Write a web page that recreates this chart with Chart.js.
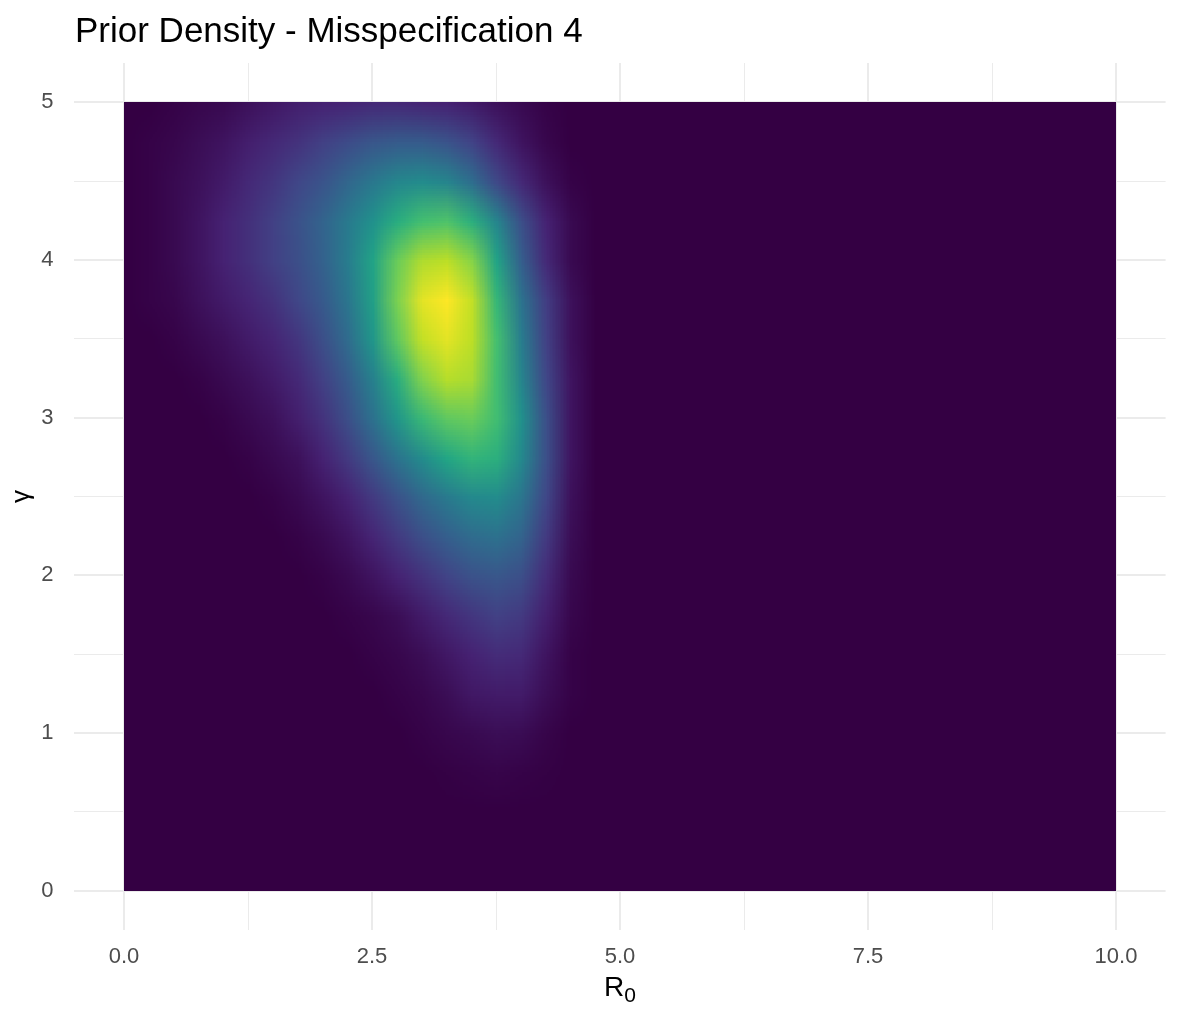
<!DOCTYPE html>
<html>
<head>
<meta charset="utf-8">
<script src="https://cdn.jsdelivr.net/npm/chart.js@4.4.0/dist/chart.umd.min.js"></script>
<style>
html,body{margin:0;padding:0;background:#ffffff;}
#wrap{width:1180px;height:1022px;position:relative;}
</style>
</head>
<body>
<div id="wrap"><canvas id="c" width="1180" height="1022"></canvas></div>
<script>
// ---------------- data ----------------
const chartTitle = 'Prior Density - Misspecification 4';
const xTitleMain = 'R';
const xTitleSub = '0';
const yTitle = 'γ';

// plotted region of the raster
const r0Range = [0, 10];
const gammaRange = [0, 5];

// grid of estimated density (relative, peak = 1); columns = R0, rows = gamma (top to bottom)
const r0Values = [0, 0.25, 0.5, 0.75, 1, 1.25, 1.5, 1.75, 2, 2.25, 2.5, 2.75, 3, 3.25, 3.5, 3.75, 4, 4.25, 4.5, 4.75, 5];
const gammaValues = [5, 4.75, 4.5, 4.25, 4, 3.75, 3.5, 3.25, 3, 2.75, 2.5, 2.25, 2, 1.75, 1.5, 1.25, 1, 0.75, 0.5, 0.25, 0];
const densityG500 = [0,0,.01,.02,.03,.05,.07,.09,.1,.11,.12,.12,.11,.1,.08,.05,.03,.01,0,0,0];
const densityG475 = [0,.01,.02,.04,.06,.09,.12,.15,.19,.23,.27,.29,.29,.26,.2,.12,.06,.02,0,0,0];
const densityG450 = [0,.01,.03,.05,.08,.12,.16,.21,.26,.33,.4,.46,.48,.45,.36,.22,.12,.05,.01,0,0];
const densityG425 = [0,.01,.03,.06,.1,.14,.19,.25,.32,.41,.5,.62,.7,.72,.63,.45,.24,.1,.03,0,0];
const densityG400 = [0,.01,.03,.06,.1,.14,.19,.24,.31,.42,.58,.77,.88,.9,.82,.58,.3,.12,.03,0,0];
const densityG375 = [0,.01,.02,.05,.08,.11,.15,.21,.28,.39,.56,.8,.96,1,.91,.66,.38,.18,.05,0,0];
const densityG350 = [0,0,.01,.03,.05,.08,.11,.16,.24,.35,.52,.75,.91,.96,.9,.7,.42,.19,.05,0,0];
const densityG325 = [0,0,0,.01,.03,.05,.08,.12,.19,.29,.43,.62,.81,.89,.87,.69,.45,.21,.06,0,0];
const densityG300 = [0,0,0,0,.01,.03,.05,.09,.15,.24,.37,.52,.67,.75,.77,.69,.5,.24,.06,0,0];
const densityG275 = [0,0,0,0,0,.01,.03,.05,.1,.17,.27,.38,.48,.59,.65,.63,.47,.24,.06,0,0];
const densityG250 = [0,0,0,0,0,0,.01,.03,.06,.1,.17,.25,.34,.41,.47,.48,.39,.21,.05,0,0];
const densityG225 = [0,0,0,0,0,0,0,.01,.03,.06,.11,.17,.24,.3,.35,.37,.32,.17,.04,0,0];
const densityG200 = [0,0,0,0,0,0,0,0,.01,.03,.06,.1,.15,.2,.25,.27,.24,.13,.03,0,0];
const densityG175 = [0,0,0,0,0,0,0,0,0,.01,.02,.04,.08,.12,.16,.19,.17,.09,.02,0,0];
const densityG150 = [0,0,0,0,0,0,0,0,0,0,.01,.02,.04,.07,.1,.13,.12,.06,.01,0,0];
const densityG125 = [0,0,0,0,0,0,0,0,0,0,0,.01,.02,.04,.07,.08,.08,.04,.01,0,0];
const densityG100 = [0,0,0,0,0,0,0,0,0,0,0,0,.01,.02,.03,.04,.035,.015,0,0,0];
const densityG075 = [0,0,0,0,0,0,0,0,0,0,0,0,0,.005,.01,.015,.01,.005,0,0,0];
const densityG050 = [0,0,0,0,0,0,0,0,0,0,0,0,0,0,0,0,0,0,0,0,0];
const densityG025 = [0,0,0,0,0,0,0,0,0,0,0,0,0,0,0,0,0,0,0,0,0];
const densityG000 = [0,0,0,0,0,0,0,0,0,0,0,0,0,0,0,0,0,0,0,0,0];
const densityRows = [densityG500, densityG475, densityG450, densityG425, densityG400, densityG375, densityG350,
  densityG325, densityG300, densityG275, densityG250, densityG225, densityG200, densityG175, densityG150,
  densityG125, densityG100, densityG075, densityG050, densityG025, densityG000];

// ticks
const xMajorTicks = [0, 2.5, 5, 7.5, 10];
const xMajorLabels = ['0.0', '2.5', '5.0', '7.5', '10.0'];
const xMinorTicks = [1.25, 3.75, 6.25, 8.75];
const yMajorTicks = [0, 1, 2, 3, 4, 5];
const yMajorLabels = ['0', '1', '2', '3', '4', '5'];
const yMinorTicks = [0.5, 1.5, 2.5, 3.5, 4.5];

// viridis palette stops (lowest stop matched to the reference background)
const paletteStops = [
  [52, 0, 67], [70, 34, 115], [65, 68, 135], [53, 95, 141], [42, 120, 142],
  [33, 145, 140], [34, 168, 132], [68, 191, 112], [122, 209, 81], [189, 223, 38], [253, 231, 37]
];

// ---------------- helpers ----------------
function colourFor(t) {
  t = Math.max(0, Math.min(1, t));
  const p = t * (paletteStops.length - 1);
  const i = Math.min(paletteStops.length - 2, Math.floor(p));
  const f = p - i;
  const a = paletteStops[i], b = paletteStops[i + 1];
  return [0, 1, 2].map(k => Math.round(a[k] + (b[k] - a[k]) * f));
}

const cellData = [];
gammaValues.forEach((g, i) => {
  r0Values.forEach((r, j) => {
    cellData.push({ x: r, y: g, v: densityRows[i][j], row: i, col: j });
  });
});

const FONT = '"Liberation Sans", Arial, Helvetica, sans-serif';

const heatmapPlugin = {
  id: 'heatmap',
  beforeDatasetsDraw(chart) {
    const xs = chart.scales.x, ys = chart.scales.y, ctx = chart.ctx;
    const data = chart.data.datasets[0].data;
    const nx = r0Values.length, ny = gammaValues.length;
    const maxV = Math.max(...data.map(d => d.v));
    const off = document.createElement('canvas');
    off.width = nx; off.height = ny;
    const octx = off.getContext('2d');
    const img = octx.createImageData(nx, ny);
    data.forEach(d => {
      const c = colourFor(d.v / maxV);
      const idx = (d.row * nx + d.col) * 4;
      img.data[idx] = c[0]; img.data[idx + 1] = c[1]; img.data[idx + 2] = c[2]; img.data[idx + 3] = 255;
    });
    octx.putImageData(img, 0, 0);
    const dx = r0Values[1] - r0Values[0];
    const dy = gammaValues[0] - gammaValues[1];
    const left = xs.getPixelForValue(r0Values[0] - dx / 2);
    const right = xs.getPixelForValue(r0Values[nx - 1] + dx / 2);
    const top = ys.getPixelForValue(gammaValues[0] + dy / 2);
    const bottom = ys.getPixelForValue(gammaValues[ny - 1] - dy / 2);
    const px0 = Math.round(xs.getPixelForValue(r0Range[0]));
    const px1 = Math.round(xs.getPixelForValue(r0Range[1]));
    const py0 = Math.round(ys.getPixelForValue(gammaRange[1]));
    const py1 = Math.round(ys.getPixelForValue(gammaRange[0]));
    ctx.save();
    ctx.beginPath();
    ctx.rect(px0, py0, px1 - px0, py1 - py0);
    ctx.clip();
    const base = colourFor(0);
    ctx.fillStyle = `rgb(${base[0]},${base[1]},${base[2]})`;
    ctx.fillRect(px0, py0, px1 - px0, py1 - py0);
    ctx.imageSmoothingEnabled = true;
    ctx.imageSmoothingQuality = 'low';
    ctx.drawImage(off, left, top, right - left, bottom - top);
    ctx.restore();
  }
};

const textPlugin = {
  id: 'texts',
  afterDraw(chart) {
    const ctx = chart.ctx;
    const area = chart.chartArea;
    ctx.save();
    // title
    ctx.fillStyle = '#000000';
    ctx.font = '35px ' + FONT;
    ctx.textAlign = 'left';
    ctx.textBaseline = 'alphabetic';
    ctx.fillText(chartTitle, 75, 42);
    // x title with subscript
    const cx = (area.left + area.right) / 2;
    ctx.font = '28px ' + FONT;
    const wMain = ctx.measureText(xTitleMain).width;
    ctx.font = '21px ' + FONT;
    const wSub = ctx.measureText(xTitleSub).width;
    const startX = cx - (wMain + wSub) / 2;
    ctx.font = '28px ' + FONT;
    ctx.fillText(xTitleMain, startX, 996);
    ctx.font = '21px ' + FONT;
    ctx.fillText(xTitleSub, startX + wMain, 1002);
    // y title rotated
    ctx.translate(28.5, (area.top + area.bottom) / 2);
    ctx.rotate(-Math.PI / 2);
    ctx.font = '26px ' + FONT;
    ctx.textAlign = 'center';
    ctx.fillText(yTitle, 0, 0);
    ctx.restore();
  }
};

function gridWidth(major) {
  return (c) => (c.tick && major.includes(c.tick.value)) ? 2 : 1;
}

new Chart(document.getElementById('c'), {
  type: 'scatter',
  data: {
    datasets: [{
      label: 'density',
      data: cellData,
      pointRadius: 0,
      pointHoverRadius: 0,
      showLine: false
    }]
  },
  options: {
    responsive: false,
    devicePixelRatio: 1,
    animation: false,
    events: [],
    layout: { padding: { left: 0, right: 14.4, top: 63, bottom: 0 } },
    plugins: { legend: { display: false }, title: { display: false }, tooltip: { enabled: false } },
    scales: {
      x: {
        type: 'linear',
        min: r0Range[0] - 0.05 * (r0Range[1] - r0Range[0]),
        max: r0Range[1] + 0.05 * (r0Range[1] - r0Range[0]),
        afterBuildTicks: (s) => {
          s.ticks = [...xMajorTicks, ...xMinorTicks].sort((a, b) => a - b).map(v => ({ value: v }));
        },
        afterFit: (s) => { s.height = 92; },
        ticks: {
          autoSkip: false,
          maxRotation: 0,
          padding: 14,
          color: '#4D4D4D',
          font: { family: FONT, size: 22 },
          callback: (v) => { const i = xMajorTicks.indexOf(v); return i >= 0 ? xMajorLabels[i] : ''; }
        },
        grid: { color: '#EBEBEB', lineWidth: gridWidth(xMajorTicks), drawTicks: false },
        border: { display: false }
      },
      y: {
        type: 'linear',
        min: gammaRange[0] - 0.05 * (gammaRange[1] - gammaRange[0]),
        max: gammaRange[1] + 0.05 * (gammaRange[1] - gammaRange[0]),
        afterBuildTicks: (s) => {
          s.ticks = [...yMajorTicks, ...yMinorTicks].sort((a, b) => a - b).map(v => ({ value: v }));
        },
        afterFit: (s) => { s.width = 74.4; },
        ticks: {
          autoSkip: false,
          padding: 21,
          color: '#4D4D4D',
          font: { family: FONT, size: 22 },
          callback: (v) => { const i = yMajorTicks.indexOf(v); return i >= 0 ? yMajorLabels[i] : ''; }
        },
        grid: { color: '#EBEBEB', lineWidth: gridWidth(yMajorTicks), drawTicks: false },
        border: { display: false }
      }
    }
  },
  plugins: [heatmapPlugin, textPlugin]
});
</script>
</body>
</html>
